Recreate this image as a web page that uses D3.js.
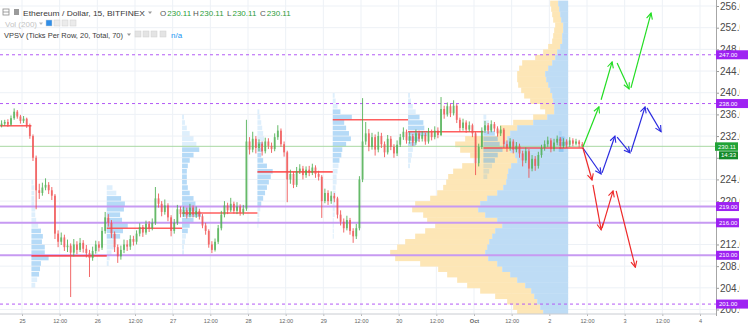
<!DOCTYPE html>
<html>
<head>
<meta charset="utf-8">
<script src="https://cdn.jsdelivr.net/npm/d3@7"></script>
<style>
  body { margin: 0; background: #fff; overflow: hidden; }
  svg { display: block; font-family: "Liberation Sans", Arial, sans-serif; }
</style>
</head>
<body>
<svg id="chart" width="750" height="328"></svg>
<script>
// hourly candles, first bar Sep 24 17:00
const firstBar = Date.UTC(2017, 8, 24, 17);
const firstOpen = 234.0;
const closes = [234.3,234.6,234.1,235.3,236.5,235.6,234.8,235.2,234.0,232.0,
 228.0,222.0,221.5,222.5,223.0,222.0,221.0,214.0,212.5,213.3,
 211.5,211.8,210.5,212.0,211.0,212.3,211.2,210.4,209.5,210.8,
 212.0,211.4,214.5,217.0,216.0,214.0,211.5,209.8,211.0,212.0,
 211.6,213.0,212.5,214.0,215.2,214.2,215.8,215.0,216.0,220.5,
 219.5,218.0,219.2,217.0,214.5,216.0,218.5,217.6,218.3,217.4,
 218.8,217.5,218.2,217.2,215.5,214.5,212.0,211.0,212.5,215.0,
 217.5,219.2,218.3,219.5,218.2,219.0,217.9,218.6,231.0,229.5,
 231.5,229.8,230.6,229.2,231.0,230.2,229.6,231.8,233.0,230.5,
 229.0,224.0,225.0,223.0,225.5,226.0,224.8,225.8,225.2,226.2,
 225.0,224.5,220.0,221.5,220.0,221.0,220.5,217.5,216.2,215.0,
 216.5,214.5,213.5,215.0,224.0,231.0,232.5,230.0,231.8,229.5,
 232.0,230.5,229.0,231.5,230.0,228.8,230.4,231.8,232.8,231.2,
 232.0,230.8,232.5,231.5,232.2,231.0,232.8,231.8,233.0,232.2,
 237.0,236.0,237.5,236.2,237.6,235.0,233.5,234.5,233.2,234.0,
 232.5,227.0,230.0,233.0,234.0,233.0,234.2,233.4,232.5,233.2,
 230.5,229.8,231.0,229.5,230.2,228.8,227.5,229.2,226.0,227.8,
 226.5,228.5,229.8,230.5,231.2,229.6,230.8,231.5,230.2,231.0,
 230.4,231.2,230.6,231.0,230.5,230.11];
const highs = [234.9,235.0,235.1,235.8,237.1,236.8,235.9,235.7,235.4,234.3,
 232.3,228.4,223.2,223.4,224.2,223.5,222.6,221.3,214.6,214.2,
 213.8,212.9,212.2,213.0,212.6,213.2,212.8,211.9,211.0,211.6,
 212.7,212.6,215.2,218.0,217.6,216.5,214.4,212.0,211.8,212.9,
 212.8,213.7,213.6,214.6,215.9,215.6,216.4,216.3,216.8,222.6,
 221.4,220.0,220.3,219.6,217.4,216.7,219.3,219.0,219.0,218.8,
 219.5,219.2,219.0,218.6,217.6,216.0,214.8,212.6,213.1,215.6,
 218.2,220.0,219.7,220.6,219.9,219.8,219.4,219.3,235.0,231.8,
 232.8,232.0,231.4,231.0,231.7,231.6,230.8,232.5,234.0,233.4,
 231.0,229.3,225.8,225.4,226.3,226.8,226.5,226.4,226.5,226.9,
 226.6,225.6,224.8,222.3,222.0,221.8,221.5,220.8,218.3,216.8,
 217.3,216.9,215.0,215.8,224.6,239.0,234.6,233.3,232.6,232.3,
 232.8,232.6,231.0,232.2,232.0,230.5,231.2,232.4,233.6,233.2,
 232.7,232.4,233.2,233.0,232.9,232.6,233.5,233.2,233.8,233.6,
 239.2,237.6,238.2,237.9,238.6,237.9,235.4,235.2,234.9,234.7,
 234.3,232.8,230.6,233.6,234.8,234.4,234.9,234.6,233.8,233.9,
 233.5,231.2,231.6,231.4,230.9,230.6,229.3,229.9,229.6,228.5,
 228.3,229.1,230.4,231.2,231.9,231.6,231.5,232.1,231.8,231.6,
 231.4,231.8,231.6,231.5,231.3,230.9];
const lows = [233.6,233.9,233.7,233.9,235.0,235.2,234.3,234.4,233.5,231.5,
 227.4,218.5,220.4,221.0,222.0,221.3,220.2,213.0,211.5,211.9,
 210.8,210.6,202.3,209.8,210.2,210.6,210.5,209.6,206.0,209.0,
 210.3,210.7,211.0,214.0,215.3,213.2,210.6,208.6,209.2,210.4,
 210.8,211.0,211.8,212.0,213.5,213.4,213.8,214.3,214.6,215.6,
 218.8,217.2,217.5,216.3,213.5,214.0,215.6,217.0,217.1,216.8,
 217.0,217.0,216.9,216.6,215.0,213.8,211.4,210.4,210.7,212.1,
 214.6,217.0,217.6,218.0,217.7,217.6,217.3,217.4,218.2,228.6,
 229.0,228.8,229.2,228.4,228.8,229.6,228.9,229.2,231.3,230.0,
 228.2,219.8,223.2,222.4,222.6,225.0,224.0,224.3,224.6,224.8,
 224.3,223.8,216.9,219.6,219.3,219.5,219.8,216.8,215.5,214.2,
 214.6,213.8,212.3,213.0,214.6,223.5,230.4,229.2,229.5,228.4,
 229.0,229.8,228.1,228.6,229.4,228.0,228.3,230.0,231.3,230.6,
 230.6,230.2,230.4,230.9,231.0,230.4,230.6,231.2,231.4,231.6,
 232.0,235.2,235.6,235.5,235.8,234.4,232.8,233.0,232.6,232.8,
 231.8,224.8,226.4,229.6,232.6,232.4,232.7,232.8,231.9,232.0,
 229.8,229.1,229.3,228.8,229.0,228.0,226.4,227.0,224.3,225.5,
 225.6,226.0,228.0,229.3,230.0,229.0,229.2,230.3,229.6,229.8,
 229.8,230.0,230.1,230.3,229.9,229.7];

// session volume profiles (rows of 1.0, listed from the top row down)
const sessionStarts = ['2017-09-24T17:00Z','2017-09-25T03:00Z','2017-09-26T03:00Z','2017-09-27T03:00Z',
  '2017-09-28T03:00Z','2017-09-29T03:00Z','2017-09-30T03:00Z','2017-10-01T03:00Z','2017-10-02T03:00Z'];
const sessionPoc = [233.9, 209.9, 215.0, 217.8, 225.4, 235.0, 232.8, 229.8, 229.8];
const sessionTopRow = [null, 223, 222, 235, 236, 239, 239, 235, 232];
const sessionVolumes = [
  [],
  [2,3,3,3,3,4,4,5,7,10,12,11,14,14,18,10,9,8,6,4],
  [6,10,15,19,18,14,16,22,17,14,10,8,5,3,2],
  [2,3,5,8,12,15,18,12,8,6,5,5,5,6,8,12,14,16,20,12,8,6,4,3,2,2],
  [2,3,4,5,6,7,6,5,4,6,10,16,14,12,10,8,6,4,3,2,2,1],
  [2,3,5,8,20,12,14,17,19,14,10,9,7,6,5,4,4,3,3,2,2,2,2,1,1,1,1],
  [2,3,5,8,12,16,17,20,12,8,5,4,3,2],
  [3,6,9,12,15,17,20,15,12,9,6,4],
  [3,6,8,5]
];

// big profile: up / down volume per row, rows from 256 down to 199
const bigTopRow = 256;
const bigAnchor = '2017-10-02T06:00Z';
const bigUp = [10,9,8,7,5,5,6,6,8,11,13,16,20,23,22,20,18,16,15,14,14,21,35,51,58,61,64,58,53,51,
  57,60,61,62,65,71,81,88,90,83,71,66,73,76,79,81,83,80,71,66,58,51,43,37,34,31,28,25];
const bigDown = [8,8,8,8,8,9,9,10,12,14,20,30,29,28,29,30,29,28,23,14,9,14,20,17,13,42,49,50,45,37,
  49,55,59,60,60,60,57,65,66,62,70,67,70,77,84,90,95,93,77,64,63,60,58,51,39,30,27,26];

const levels = [247, 238, 219, 216, 210, 201];
const levelDashed = [true, true, false, false, false, true];
const lastPrice = 230.11;
const lastTime = '14:33';

const priceTicks = [200,204,208,212,216,220,224,228,232,236,240,244,248,252,256];
const timeTickLabels = ['25','12:00','26','12:00','27','12:00','28','12:00','29','12:00',
  '30','12:00','Oct','12:00','2','12:00','3','12:00','4'];

// projection arrows [from, to] legs
const greenLegs = [[['2017-10-02T10:42Z',230.0],['2017-10-02T15:48Z',237.4]],
  [['2017-10-02T16:30Z',238.7],['2017-10-02T20:00Z',245.7]],
  [['2017-10-02T21:36Z',245.5],['2017-10-03T01:24Z',240.7]],
  [['2017-10-03T02:00Z',240.9],['2017-10-03T08:24Z',254.7]]];
const blueLegs = [[['2017-10-02T10:42Z',229.8],['2017-10-02T16:30Z',225.0]],
  [['2017-10-02T16:48Z',225.2],['2017-10-02T20:54Z',232.0]],
  [['2017-10-02T21:36Z',231.8],['2017-10-03T01:42Z',228.9]],
  [['2017-10-03T02:00Z',229.1],['2017-10-03T06:30Z',237.4]],
  [['2017-10-03T07:06Z',237.2],['2017-10-03T11:36Z',232.8]]];
const redLegs = [[['2017-10-02T10:42Z',229.8],['2017-10-02T13:36Z',223.9]],
  [['2017-10-02T13:54Z',223.0],['2017-10-02T16:30Z',214.7]],
  [['2017-10-02T16:48Z',215.0],['2017-10-02T20:18Z',221.9]],
  [['2017-10-02T21:18Z',221.9],['2017-10-03T03:24Z',207.8]]];

const plotR = 716, plotB = 314;
const svg = d3.select('#chart');
const x = d3.scaleUtc().domain([Date.UTC(2017,8,25), Date.UTC(2017,9,4)]).range([22, 700]);
const y = d3.scaleLinear().domain([200, 256]).range([309.5, 6]);
const HOUR = 3600e3;

const defs = svg.append('defs');
defs.append('clipPath').attr('id', 'plot').append('rect')
  .attr('x', 0).attr('y', 0).attr('width', plotR).attr('height', plotB);
defs.append('clipPath').attr('id', 'pax').append('rect')
  .attr('x', plotR).attr('y', 0).attr('width', 24).attr('height', plotB + 2);
[['g', '#22dd22'], ['b', '#2a2adf'], ['r', '#ee2a2a']].forEach(function(m){
  defs.append('marker').attr('id', 'arr' + m[0])
    .attr('viewBox', '-7 -4 8 8').attr('refX', 0).attr('refY', 0)
    .attr('markerWidth', 8).attr('markerHeight', 8).attr('markerUnits', 'userSpaceOnUse')
    .attr('orient', 'auto')
    .append('path').attr('d', 'M-6,-3L0,0L-6,3').attr('fill', 'none')
    .attr('stroke', m[1]).attr('stroke-width', 1.1);
});

const timeTicks = timeTickLabels.map((d, i) => new Date(Date.UTC(2017,8,25) + i * 12 * HOUR));

const plot = svg.append('g').attr('clip-path', 'url(#plot)');

// grid
plot.append('g').selectAll('line').data(timeTicks).join('line')
  .attr('x1', d => x(d)).attr('x2', d => x(d)).attr('y1', 0).attr('y2', plotB)
  .attr('stroke', '#edf1f6');
plot.append('g').selectAll('line').data(priceTicks).join('line')
  .attr('x1', 0).attr('x2', plotR).attr('y1', d => y(d)).attr('y2', d => y(d))
  .attr('stroke', '#edf1f6');

// big volume profile
const bw = d3.scaleLinear().domain([0, 100]).range([0, 100]);
const ax = x(new Date(bigAnchor));
const bigRows = bigUp.map((u, k) => ({ low: bigTopRow - k, up: u, dn: bigDown[k] }));
const bigG = plot.append('g');
bigG.selectAll('rect.dn').data(bigRows).join('rect').attr('class', 'dn')
  .attr('x', d => ax - bw(d.up + d.dn)).attr('width', d => bw(d.dn))
  .attr('y', d => y(d.low + 1)).attr('height', d => y(d.low) - y(d.low + 1) + 0.4)
  .attr('fill', '#fde6b6');
bigG.selectAll('rect.up').data(bigRows).join('rect').attr('class', 'up')
  .attr('x', d => ax - bw(d.up)).attr('width', d => bw(d.up))
  .attr('y', d => y(d.low + 1)).attr('height', d => y(d.low) - y(d.low + 1) + 0.4)
  .attr('fill', '#bedcf5');

// session profiles
const sw = d3.scaleLinear().domain([0, 22]).range([0, 21]);
sessionVolumes.forEach(function(vols, s){
  if (!vols.length) return;
  const x0 = x(new Date(sessionStarts[s]));
  const rows = vols.map((v, k) => ({ low: sessionTopRow[s] - k, v: v, k: k }));
  // 70% value area around the biggest row
  const total = d3.sum(vols);
  let lo = d3.maxIndex(vols), hi = lo, sum = vols[lo];
  while (sum < total * 0.7) {
    const a = hi + 1 < vols.length ? vols[hi + 1] : -1;
    const b = lo - 1 >= 0 ? vols[lo - 1] : -1;
    if (a >= b) { hi++; sum += a; } else { lo--; sum += b; }
  }
  plot.append('g').selectAll('rect').data(rows).join('rect')
    .attr('x', x0).attr('width', d => sw(d.v))
    .attr('y', d => y(d.low + 1) + 0.4).attr('height', d => y(d.low) - y(d.low + 1) - 0.8)
    .attr('fill', '#5aaeee')
    .attr('opacity', d => (d.k >= lo && d.k <= hi) ? 0.45 : 0.2);
});

// horizontal levels
const lvl = levels.map((p, i) => ({ p: p, dashed: levelDashed[i] }));
plot.append('g').selectAll('line').data(lvl).join('line')
  .attr('x1', 0).attr('x2', plotR).attr('y1', d => y(d.p)).attr('y2', d => y(d.p))
  .attr('stroke', d => d.dashed ? '#b35af6' : '#c79af2')
  .attr('stroke-width', d => d.dashed ? 1 : 2)
  .attr('stroke-dasharray', d => d.dashed ? '3,3' : null);

// session POC lines
const pocs = sessionPoc.map((p, s) => ({
  p: p,
  t0: new Date(sessionStarts[s]),
  t1: s + 1 < sessionStarts.length ? new Date(sessionStarts[s + 1]) : new Date(firstBar + closes.length * HOUR)
}));
plot.append('g').selectAll('line').data(pocs).join('line')
  .attr('x1', d => x(d.t0)).attr('x2', d => x(d.t1))
  .attr('y1', d => y(d.p)).attr('y2', d => y(d.p))
  .attr('stroke', '#ff2a2a').attr('stroke-opacity', 0.75).attr('stroke-width', 1.6);

// last price line
plot.append('line').attr('x1', 0).attr('x2', plotR)
  .attr('y1', y(lastPrice)).attr('y2', y(lastPrice))
  .attr('stroke', '#a8d8a2').attr('stroke-width', 1);

// candles
const bars = closes.map((c, i) => ({
  t: new Date(firstBar + i * HOUR + HOUR / 2),
  o: i ? closes[i - 1] : firstOpen, c: c, h: highs[i], l: lows[i]
}));
const cg = plot.append('g').selectAll('g').data(bars).join('g')
  .attr('opacity', 0.85);
cg.append('line')
  .attr('x1', d => x(d.t)).attr('x2', d => x(d.t))
  .attr('y1', d => y(d.h)).attr('y2', d => y(d.l))
  .attr('stroke', d => d.c >= d.o ? '#4caf50' : '#f05050').attr('stroke-width', 1);
cg.append('rect')
  .attr('x', d => x(d.t) - 0.9).attr('width', 1.8)
  .attr('y', d => y(Math.max(d.o, d.c)))
  .attr('height', d => Math.max(0.8, Math.abs(y(d.o) - y(d.c))))
  .attr('fill', d => d.c >= d.o ? '#4caf50' : '#f05050');

// projection arrows
[[greenLegs, '#22dd22', 'g'], [blueLegs, '#2a2adf', 'b'], [redLegs, '#ee2a2a', 'r']].forEach(function(set){
  plot.append('g').selectAll('line').data(set[0]).join('line')
    .attr('x1', d => x(new Date(d[0][0]))).attr('y1', d => y(d[0][1]))
    .attr('x2', d => x(new Date(d[1][0]))).attr('y2', d => y(d[1][1]))
    .attr('stroke', set[1]).attr('stroke-width', 1.2)
    .attr('marker-end', 'url(#arr' + set[2] + ')');
});

// time axis
const xAxis = svg.append('g').attr('transform', 'translate(0,' + plotB + ')')
  .call(d3.axisBottom(x).tickValues(timeTicks).tickFormat((d, i) => timeTickLabels[i]).tickSize(2).tickPadding(3));
xAxis.select('.domain').remove();
xAxis.append('line').attr('x1', 0).attr('x2', plotR).attr('stroke', '#c9ccd2');
xAxis.selectAll('.tick line').attr('stroke', '#b8b8b8');
xAxis.selectAll('.tick text').attr('font-size', 5.6).attr('fill', '#666')
  .attr('font-family', '"Liberation Sans", Arial, sans-serif')
  .attr('font-weight', (d, i) => timeTickLabels[i] === 'Oct' ? 'bold' : null);

// price axis (labels sitting under a level tag are hidden, as in the reference)
const tagYs = levels.concat([lastPrice]).map(p => y(p)).concat([y(lastPrice) + 9]);
const yg = svg.append('g').attr('clip-path', 'url(#pax)');
const yAxis = yg.append('g').attr('transform', 'translate(' + plotR + ',0)')
  .call(d3.axisRight(y).tickValues(priceTicks).tickFormat(d3.format('.1f')).tickSize(3).tickPadding(1));
yAxis.select('.domain').remove();
yAxis.selectAll('.tick line').attr('stroke', '#999');
yAxis.selectAll('.tick text').attr('font-size', 10).attr('fill', '#4a4a4a')
  .attr('font-family', '"Liberation Sans", Arial, sans-serif')
  .attr('display', d => tagYs.some(t => Math.abs(t - y(d)) < 5) ? 'none' : null);
svg.append('line').attr('x1', plotR + 0.5).attr('x2', plotR + 0.5).attr('y1', 0).attr('y2', plotB + 2)
  .attr('stroke', '#a6a6a6');

// level labels
const lab = svg.append('g');
lab.selectAll('rect.lv').data(lvl).join('rect').attr('class', 'lv')
  .attr('x', plotR).attr('y', d => y(d.p) - 4.5)
  .attr('width', d => d.dashed ? 32 : 23).attr('height', 9)
  .attr('fill', '#9e22f2');
lab.selectAll('text.lv').data(lvl).join('text').attr('class', 'lv')
  .attr('x', plotR + 3).attr('y', d => y(d.p) + 2).attr('font-size', 6)
  .attr('fill', '#fff').text(d => d.p.toFixed(2));
const ly = y(lastPrice);
lab.append('rect').attr('x', plotR - 1).attr('y', ly - 4).attr('width', 23).attr('height', 8.5).attr('fill', '#21a336');
lab.append('text').attr('x', plotR + 2).attr('y', ly + 2.2).attr('font-size', 6).attr('fill', '#fff').text(lastPrice.toFixed(2));
lab.append('rect').attr('x', plotR + 3).attr('y', ly + 5).attr('width', 19).attr('height', 8).attr('fill', '#148a2a');
lab.append('text').attr('x', plotR + 5).attr('y', ly + 11).attr('font-size', 6).attr('fill', '#fff').text(lastTime);

// legend
const lg = svg.append('g').attr('font-size', 8);
function icon(x0, y0, fill){
  lg.append('rect').attr('x', x0).attr('y', y0).attr('width', 6).attr('height', 6)
    .attr('fill', fill).attr('stroke', '#cfcfcf').attr('stroke-width', 0.5);
}
function caret(x0, y0, fill){
  lg.append('path').attr('d', 'M' + x0 + ',' + y0 + 'l4,0l-2,2.5z').attr('fill', fill);
}
lg.append('rect').attr('x', 3).attr('y', 9).attr('width', 6).attr('height', 6)
  .attr('fill', 'none').attr('stroke', '#8a8a8a').attr('stroke-width', 0.8);
lg.append('line').attr('x1', 3).attr('x2', 9).attr('y1', 12).attr('y2', 12).attr('stroke', '#8a8a8a').attr('stroke-width', 0.8);
lg.append('rect').attr('x', 14).attr('y', 9).attr('width', 5).attr('height', 6).attr('fill', '#9a9a9a');
lg.append('text').attr('x', 23).attr('y', 15.5).attr('fill', '#3a3a3a')
  .attr('textLength', 122).attr('lengthAdjust', 'spacingAndGlyphs').text('Ethereum / Dollar, 15, BITFINEX');
caret(148, 11.5, '#999');
[['O', 160], ['H', 193], ['L', 227], ['C', 260]].forEach(function(o){
  const t = lg.append('text').attr('x', o[1]).attr('y', 15.5);
  t.append('tspan').attr('fill', '#555').text(o[0]);
  t.append('tspan').attr('fill', '#2e9e3a').attr('dx', 1).text(lastPrice.toFixed(2));
});
lg.append('text').attr('x', 5).attr('y', 26.5).attr('fill', '#c4c4c4')
  .attr('textLength', 32).attr('lengthAdjust', 'spacingAndGlyphs').text('Vol (200)');
caret(39, 22.5, '#bbb');
icon(46, 20, '#2f8ee8'); icon(54, 20, '#ebebeb'); icon(62, 20, '#ebebeb'); icon(70, 20, '#ebebeb');
lg.append('text').attr('x', 4).attr('y', 37.5).attr('fill', '#3a3a3a')
  .attr('textLength', 119).attr('lengthAdjust', 'spacingAndGlyphs').text('VPSV (Ticks Per Row, 20, Total, 70)');
caret(127, 33.5, '#999');
icon(135, 31, '#e4e4e4'); icon(143, 31, '#e4e4e4'); icon(151, 31, '#e4e4e4'); icon(160, 31, '#e4e4e4');
lg.append('text').attr('x', 171).attr('y', 37.5).attr('fill', '#2196f3').text('n/a');
</script>
</body>
</html>
